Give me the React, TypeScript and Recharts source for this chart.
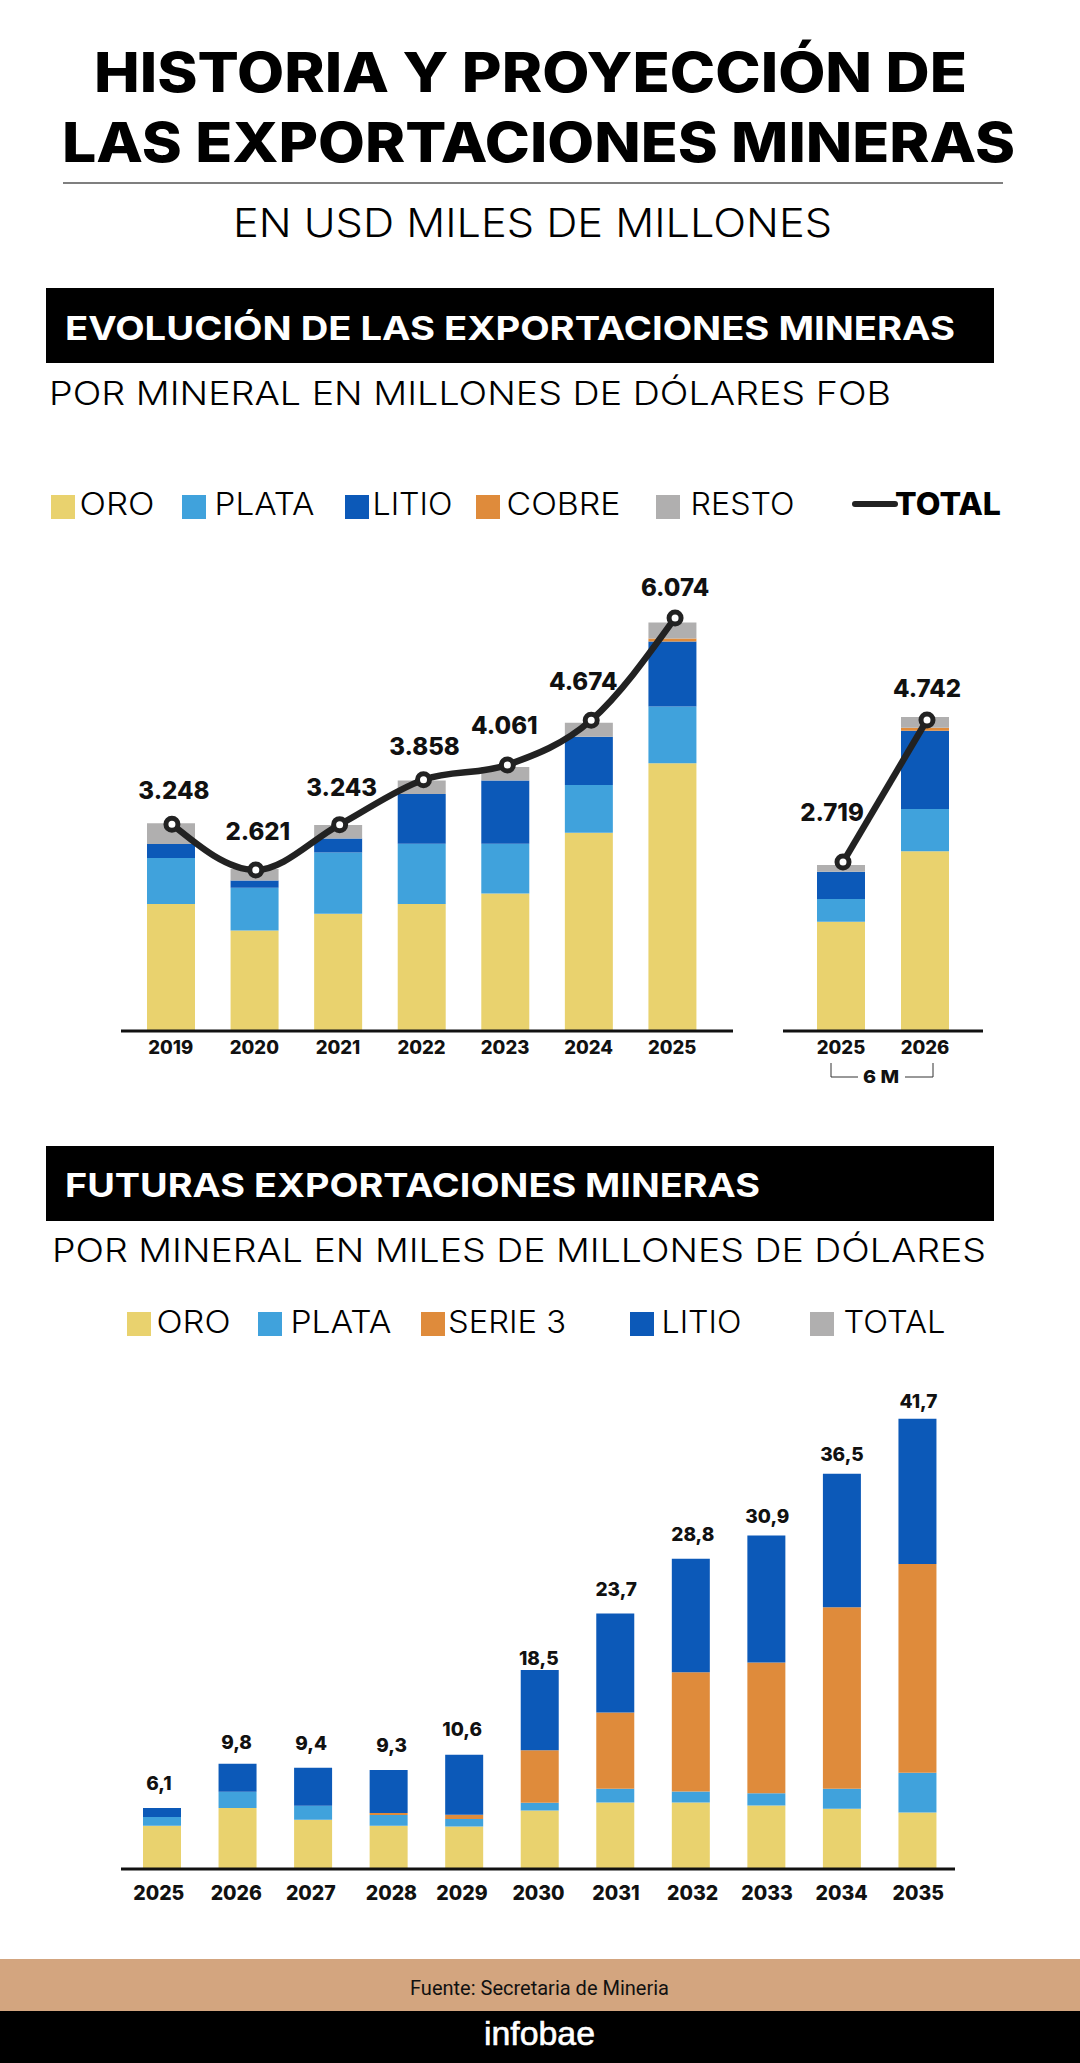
import React from 'react';
import { ComposedChart, Bar, Line, XAxis, YAxis, LabelList } from 'recharts';

const ORO = '#E9D26E';
const PLATA = '#40A2DC';
const LITIO = '#0C59B8';
const COBRE = '#DF8B3B';
const RESTO = '#B0AFAF';
const INK = '#222222';
const FONT = 'Inter, "Open Sans", sans-serif';

// Evolucion: anual
const years = ['2019', '2020', '2021', '2022', '2023', '2024', '2025'];
const oro = [2156, 1791, 2023, 2156, 2298, 3133, 4085];
const plata = [630, 588, 839, 825, 683, 654, 775];
const litio = [190, 99, 190, 683, 867, 659, 891];
const cobre = [0, 0, 0, 0, 0, 0, 43];
const resto = [285, 157, 185, 184, 185, 194, 218];
const total = [3248, 2621, 3243, 3858, 4061, 4674, 6074];
const totalLabels = ['3.248', '2.621', '3.243', '3.858', '4.061', '4.674', '6.074'];

// Evolucion: primeros 6 meses
const halfYears = ['2025', '2026'];
const halfOro = [1869, 2871];
const halfPlata = [323, 603];
const halfLitio = [390, 1116];
const halfCobre = [0, 43];
const halfResto = [94, 152];
const halfTotal = [2719, 4742];
const halfLabels = ['2.719', '4.742'];

// Futuras
const futureYears = ['2025', '2026', '2027', '2028', '2029', '2030', '2031', '2032', '2033', '2034', '2035'];
const futOro = [4.03, 5.67, 4.59, 4.03, 3.94, 5.45, 6.19, 6.19, 5.91, 5.59, 5.25];
const futPlata = [0.8, 1.52, 1.3, 0.99, 0.71, 0.72, 1.27, 1.01, 1.14, 1.87, 3.69];
const futSerie3 = [0, 0, 0, 0.19, 0.4, 4.86, 7.08, 11.1, 12.15, 16.87, 19.41];
const futLitio = [0.84, 2.6, 3.53, 3.99, 5.58, 7.47, 9.22, 10.55, 11.8, 12.42, 13.52];
const futLabels = ['6,1', '9,8', '9,4', '9,3', '10,6', '18,5', '23,7', '28,8', '30,9', '36,5', '41,7'];

const yearRows = years.map((year, i) => ({
  year, oro: oro[i], plata: plata[i], litio: litio[i], cobre: cobre[i], resto: resto[i], total: total[i],
}));
const halfRows = halfYears.map((year, i) => ({
  year, oro: halfOro[i], plata: halfPlata[i], litio: halfLitio[i], cobre: halfCobre[i], resto: halfResto[i], total: halfTotal[i],
}));
const futureRows = futureYears.map((year, i) => ({
  year, oro: futOro[i], plata: futPlata[i], serie3: futSerie3[i], litio: futLitio[i],
}));

// nudges to sit the labels like the original
const yearLabelDx = [2, 2, 2, 1, -3, -8, 0];
const yearLabelDy = [-34, -39, -37, -33, -39, -39, -30];
const halfLabelDx = [-11, 0];
const halfLabelDy = [-50, -32];
const futDx = [-3, -1, -2, 3, -2, -1, 1, 2, 1, 0, 1];
const futDy = [-25, -21, -24, -25, -25, -12, -24, -24, -19, -19, -17];

const Txt = ({ x, y, w, size, weight = 400, fill = '#000', family = FONT, children, ...rest }: any) => (
  <text x={x} y={y} fontFamily={family} fontSize={size} fontWeight={weight} fill={fill} textLength={w} lengthAdjust="spacingAndGlyphs" {...rest}>
    {children}
  </text>
);

const Swatch = ({ x, y, color }: any) => <rect x={x} y={y} width={24} height={24} fill={color} />;

const yearTick = (size: number, dy: number, offsets?: number[]) => (props: any) => {
  const { x, y, payload, index } = props;
  return (
    <text x={x + (offsets ? offsets[index] : 0)} y={y + dy} textAnchor="middle" fontFamily={FONT} fontSize={size} fontWeight={800} fill="#111">
      {payload.value}
    </text>
  );
};

const valueLabel = (texts: string[], dx: number[], dy: number[], size: number, center = false) => (props: any) => {
  const { x, y, width, index } = props;
  const cx = center ? x + width / 2 : x;
  return (
    <text x={cx + dx[index]} y={y + dy[index]} textAnchor="middle" dominantBaseline="central" fontFamily={FONT} fontSize={size} fontWeight={800} fill="#111">
      {texts[index]}
    </text>
  );
};

const axisLine = { stroke: '#111', strokeWidth: 3 };
const dot = { r: 6, fill: '#fff', stroke: INK, strokeWidth: 5 };

export default function App() {
  return (
    <div style={{ position: 'absolute', left: 0, top: 0, width: 1080, height: 2063, background: '#fff', overflow: 'hidden' }}>
      <svg width={1080} height={2063} style={{ position: 'absolute', left: 0, top: 0 }}>
        <Txt x={94} y={92} w={873} size={55} weight={800}>HISTORIA Y PROYECCIÓN DE</Txt>
        <Txt x={62} y={162} w={953} size={55} weight={800}>LAS EXPORTACIONES MINERAS</Txt>
        <line x1={63} x2={1003} y1={183} y2={183} stroke="#555" strokeWidth={1.5} />
        <Txt x={233} y={237} w={599} size={39} weight={300}>EN USD MILES DE MILLONES</Txt>

        <rect x={46} y={288} width={948} height={75} fill="#000" />
        <Txt x={65} y={340} w={890} size={33} weight={700} fill="#fff">EVOLUCIÓN DE LAS EXPORTACIONES MINERAS</Txt>
        <Txt x={49} y={405} w={842} size={33} weight={300}>POR MINERAL EN MILLONES DE DÓLARES FOB</Txt>

        <Swatch x={51} y={495} color={ORO} />
        <Txt x={79.5} y={515} w={75} size={31} weight={300}>ORO</Txt>
        <Swatch x={182} y={495} color={PLATA} />
        <Txt x={214.5} y={515} w={100} size={31} weight={300}>PLATA</Txt>
        <Swatch x={345} y={495} color={LITIO} />
        <Txt x={372.5} y={515} w={80} size={31} weight={300}>LITIO</Txt>
        <Swatch x={476} y={495} color={COBRE} />
        <Txt x={506.5} y={515} w={114} size={31} weight={300}>COBRE</Txt>
        <Swatch x={656} y={495} color={RESTO} />
        <Txt x={690.5} y={515} w={104} size={31} weight={300}>RESTO</Txt>
        <line x1={855} x2={895} y1={504} y2={504} stroke={INK} strokeWidth={6} strokeLinecap="round" />
        <Txt x={895} y={515} w={106} size={31} weight={800}>TOTAL</Txt>

        <path d="M831 1063V1077H858M905 1077H933V1063" fill="none" stroke="#333" strokeWidth={1} />
        <Txt x={863} y={1083} w={36} size={18} weight={800} fill="#111">6 M</Txt>

        <rect x={46} y={1146} width={948} height={75} fill="#000" />
        <Txt x={65} y={1197} w={695} size={33} weight={700} fill="#fff">FUTURAS EXPORTACIONES MINERAS</Txt>
        <Txt x={52} y={1262} w={934} size={33} weight={300}>POR MINERAL EN MILES DE MILLONES DE DÓLARES</Txt>

        <Swatch x={127} y={1312} color={ORO} />
        <Txt x={156.5} y={1333} w={74} size={31} weight={300}>ORO</Txt>
        <Swatch x={258} y={1312} color={PLATA} />
        <Txt x={290.5} y={1333} w={101} size={31} weight={300}>PLATA</Txt>
        <Swatch x={421} y={1312} color={COBRE} />
        <Txt x={448} y={1333} w={118} size={31} weight={300}>SERIE 3</Txt>
        <Swatch x={630} y={1312} color={LITIO} />
        <Txt x={661.5} y={1333} w={80} size={31} weight={300}>LITIO</Txt>
        <Swatch x={810} y={1312} color={RESTO} />
        <Txt x={843.5} y={1333} w={102} size={31} weight={300}>TOTAL</Txt>

        <rect x={0} y={1959} width={1080} height={52} fill="#D3A57F" />
        <rect x={0} y={2011} width={1080} height={52} fill="#000" />
        <Txt x={410} y={1995} w={259} size={20} family="Roboto, sans-serif" fill="#111">Fuente: Secretaria de Mineria</Txt>
        <Txt x={484} y={2045} w={111} size={33} family='"Liberation Sans", sans-serif' fill="#fff" stroke="#fff" strokeWidth={0.6}>infobae</Txt>
      </svg>

      <div style={{ position: 'absolute', left: 121, top: 550 }}>
        <ComposedChart width={612} height={521} data={yearRows} margin={{ top: 0, right: 0, bottom: 0, left: 0 }}>
          <XAxis dataKey="year" height={40} padding={{ left: 8, right: 19 }} axisLine={axisLine} tickLine={false} interval={0} tick={yearTick(18.5, 15)} />
          <XAxis xAxisId="line" dataKey="year" hide padding={{ left: 9, right: 16 }} />
          <YAxis hide domain={[416, 7005]} allowDataOverflow />
          <Bar dataKey="oro" stackId="a" fill={ORO} barSize={48} isAnimationActive={false} />
          <Bar dataKey="plata" stackId="a" fill={PLATA} barSize={48} isAnimationActive={false} />
          <Bar dataKey="litio" stackId="a" fill={LITIO} barSize={48} isAnimationActive={false} />
          <Bar dataKey="cobre" stackId="a" fill={COBRE} barSize={48} isAnimationActive={false} />
          <Bar dataKey="resto" stackId="a" fill={RESTO} barSize={48} isAnimationActive={false} />
          <Line xAxisId="line" dataKey="total" type="monotone" stroke={INK} strokeWidth={6.5} dot={dot} isAnimationActive={false}>
            <LabelList dataKey="total" content={valueLabel(totalLabels, yearLabelDx, yearLabelDy, 24)} />
          </Line>
        </ComposedChart>
      </div>

      <div style={{ position: 'absolute', left: 783, top: 550 }}>
        <ComposedChart width={200} height={521} data={halfRows} margin={{ top: 0, right: 0, bottom: 0, left: 0 }}>
          <XAxis dataKey="year" height={40} padding={{ left: 16, right: 16 }} axisLine={axisLine} tickLine={false} interval={0} tick={yearTick(18.5, 15)} />
          <XAxis xAxisId="line" dataKey="year" hide padding={{ left: 18, right: 14 }} />
          <YAxis hide domain={[312, 7164]} allowDataOverflow />
          <Bar dataKey="oro" stackId="a" fill={ORO} barSize={48} isAnimationActive={false} />
          <Bar dataKey="plata" stackId="a" fill={PLATA} barSize={48} isAnimationActive={false} />
          <Bar dataKey="litio" stackId="a" fill={LITIO} barSize={48} isAnimationActive={false} />
          <Bar dataKey="cobre" stackId="a" fill={COBRE} barSize={48} isAnimationActive={false} />
          <Bar dataKey="resto" stackId="a" fill={RESTO} barSize={48} isAnimationActive={false} />
          <Line xAxisId="line" dataKey="total" type="linear" stroke={INK} strokeWidth={6.5} dot={dot} isAnimationActive={false}>
            <LabelList dataKey="total" content={valueLabel(halfLabels, halfLabelDx, halfLabelDy, 24)} />
          </Line>
        </ComposedChart>
      </div>

      <div style={{ position: 'absolute', left: 121, top: 1391 }}>
        <ComposedChart width={834} height={518} data={futureRows} margin={{ top: 0, right: 0, bottom: 0, left: 0 }}>
          <XAxis dataKey="year" height={40} padding={{ left: 3, right: 0 }} axisLine={axisLine} tickLine={false} interval={0} tick={yearTick(19.5, 23, futDx)} />
          <YAxis hide domain={[0, 44.44]} allowDataOverflow />
          <Bar dataKey="oro" stackId="a" fill={ORO} barSize={38} isAnimationActive={false} />
          <Bar dataKey="plata" stackId="a" fill={PLATA} barSize={38} isAnimationActive={false} />
          <Bar dataKey="serie3" stackId="a" fill={COBRE} barSize={38} isAnimationActive={false} />
          <Bar dataKey="litio" stackId="a" fill={LITIO} barSize={38} isAnimationActive={false}>
            <LabelList dataKey="litio" content={valueLabel(futLabels, futDx, futDy, 19, true)} />
          </Bar>
        </ComposedChart>
      </div>
    </div>
  );
}
